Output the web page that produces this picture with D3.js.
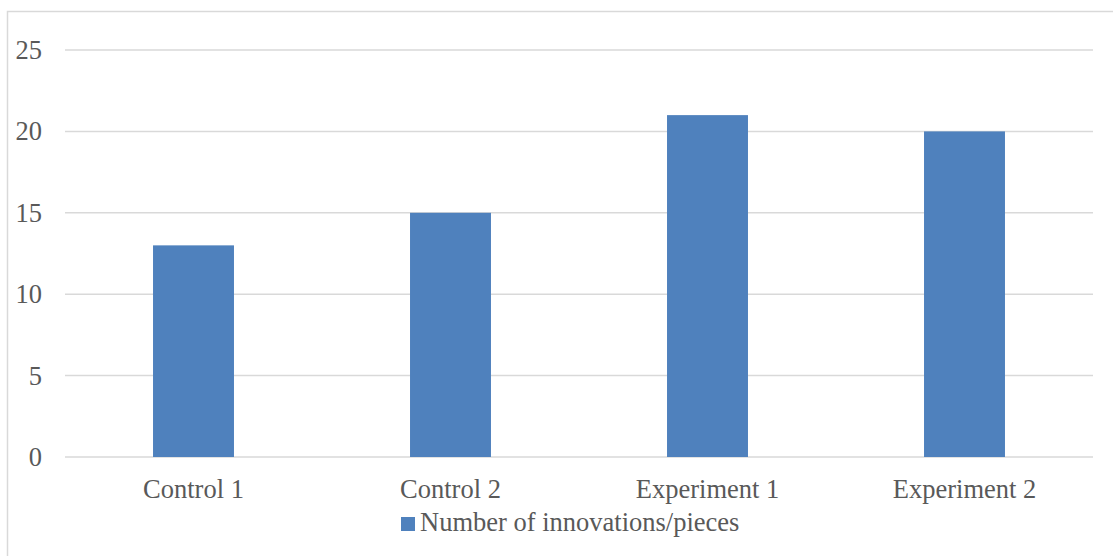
<!DOCTYPE html>
<html>
<head>
<meta charset="utf-8">
<script src="https://cdn.jsdelivr.net/npm/d3@7"></script>
<style>
  body { margin: 0; background: #fff; }
</style>
</head>
<body>
<script>
  var w = 1113;
  var h = 556;

  var categories = ["Control 1", "Control 2", "Experiment 1", "Experiment 2"];
  var values = [13, 15, 21, 20];
  var yTicks = [0, 5, 10, 15, 20, 25];
  var seriesName = "Number of innovations/pieces";

  var font = "'Liberation Serif', 'Times New Roman', Times, 'DejaVu Serif', serif";

  var svg = d3.select("body").append("svg")
              .attr("width", w)
              .attr("height", h)
              .style("font-family", font);

  // chart frame
  svg.append("rect")
     .attr("x", 7.5).attr("y", 11.5)
     .attr("width", w + 10).attr("height", h + 10)
     .attr("fill", "none")
     .attr("stroke", "#d9d9d9")
     .attr("stroke-width", 1.5);

  var x = d3.scaleBand()
            .domain(categories)
            .range([65, 1093])
            .paddingInner(0.685)
            .paddingOuter(0.3425);

  var y = d3.scaleLinear()
            .domain([0, 25])
            .range([457, 50]);

  // gridlines
  svg.selectAll("line.grid")
     .data(yTicks)
     .enter()
     .append("line")
     .attr("class", "grid")
     .attr("x1", 65).attr("x2", 1093)
     .attr("y1", function(d){ return y(d); })
     .attr("y2", function(d){ return y(d); })
     .attr("stroke", "#d9d9d9")
     .attr("stroke-width", 1.5);

  // y tick labels
  svg.selectAll("text.ytick")
     .data(yTicks)
     .enter()
     .append("text")
     .attr("class", "ytick")
     .attr("x", 42)
     .attr("y", function(d){ return y(d) + 9; })
     .attr("text-anchor", "end")
     .attr("font-family", font)
     .attr("font-size", "26.5px")
     .attr("fill", "#595959")
     .text(function(d){ return d; });

  // bars
  svg.selectAll("rect.bar")
     .data(values)
     .enter()
     .append("rect")
     .attr("class", "bar")
     .attr("x", function(d, i){ return x(categories[i]); })
     .attr("y", function(d){ return y(d); })
     .attr("width", x.bandwidth())
     .attr("height", function(d){ return y(0) - y(d); })
     .attr("fill", "#4f81bd");

  // x labels
  svg.selectAll("text.xtick")
     .data(categories)
     .enter()
     .append("text")
     .attr("class", "xtick")
     .attr("x", function(d){ return x(d) + x.bandwidth() / 2; })
     .attr("y", 498)
     .attr("text-anchor", "middle")
     .attr("font-family", font)
     .attr("font-size", "26.5px")
     .attr("fill", "#595959")
     .text(function(d){ return d; });

  // legend
  var legend = svg.append("g");
  legend.append("rect")
        .attr("x", 401).attr("y", 517)
        .attr("width", 14).attr("height", 14)
        .attr("fill", "#4f81bd");
  legend.append("text")
        .attr("x", 420).attr("y", 531)
        .attr("font-family", font)
        .attr("font-size", "26.5px")
        .attr("fill", "#595959")
        .text(seriesName);
</script>
</body>
</html>
